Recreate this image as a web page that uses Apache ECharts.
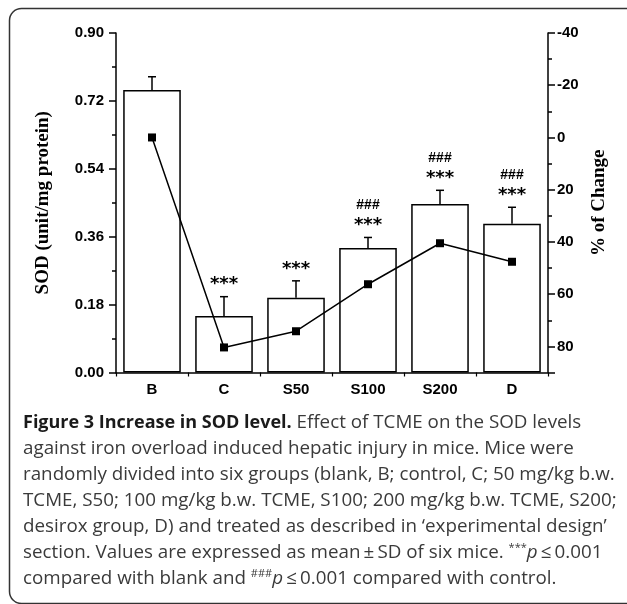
<!DOCTYPE html>
<html>
<head>
<meta charset="utf-8">
<script src="https://cdn.jsdelivr.net/npm/echarts@6/dist/echarts.min.js"></script>
<style>
html,body{margin:0;padding:0;background:#fff;}
#chart{width:627px;height:604px;}
</style>
</head>
<body>
<div id="chart"></div>
<script>
var categories = ['B', 'C', 'S50', 'S100', 'S200', 'D'];
var sodMean = [0.749, 0.150, 0.198, 0.330, 0.447, 0.394];
var sodSD = [0.035, 0.051, 0.045, 0.028, 0.036, 0.044];
var pctChange = [0, 80.4, 74.2, 56.2, 40.5, 47.6];
var starMarks = ['', '***', '***', '***', '***', '***'];
var hashMarks = ['', '', '', '###', '###', '###'];

var captionLines = [
  '{b|Figure 3 Increase in SOD level.}{r| Effect of TCME on the SOD levels}',
  '{r|against iron overload induced hepatic injury in mice. Mice were}',
  '{r|randomly divided into six groups (blank, B; control, C; 50 mg/kg b.w.}',
  '{r|TCME, S50; 100 mg/kg b.w. TCME, S100; 200 mg/kg b.w. TCME, S200;}',
  '{r|desirox group, D) and treated as described in \u2018experimental design\u2019}',
  '{r|section. Values are expressed as mean\u2009\u00b1\u2009SD of six mice. }{sup|***}{i|p}{r|\u2009\u2264\u20090.001}',
  '{r|compared with blank and }{sup|###}{i|p}{r|\u2009\u2264\u20090.001 compared with control.}'
];

var chart = echarts.init(document.getElementById('chart'));

var errData = categories.map(function (c, i) { return [i, sodMean[i], sodSD[i]]; });

var option = {
  animation: false,
  grid: { left: 116, right: 79, top: 33, bottom: 231.5, containLabel: false },
  xAxis: {
    type: 'category',
    data: categories,
    boundaryGap: true,
    axisLine: { lineStyle: { color: '#000', width: 1.5 } },
    axisTick: { show: true, length: 4, inside: false, lineStyle: { color: '#000', width: 1.2 } },
    axisLabel: { color: '#000', fontFamily: 'Liberation Sans, Arial', fontWeight: 'bold', fontSize: 15, margin: 10 }
  },
  yAxis: [
    {
      type: 'value',
      min: 0, max: 0.9, interval: 0.18,
      name: 'SOD (unit/mg protein)',
      nameLocation: 'middle',
      nameRotate: 90,
      nameGap: 63,
      nameTextStyle: { color: '#000', fontFamily: 'Liberation Serif, Times New Roman', fontWeight: 'bold', fontSize: 19 },
      axisLine: { show: true, lineStyle: { color: '#000', width: 1.5 } },
      axisTick: { show: true, length: 7, lineStyle: { color: '#000', width: 1.5 } },
      minorTick: { show: true, splitNumber: 2, length: 4, lineStyle: { color: '#000', width: 1.5 } },
      splitLine: { show: false },
      axisLabel: {
        color: '#000', fontFamily: 'Liberation Sans, Arial', fontWeight: 'bold', fontSize: 15, margin: 12,
        formatter: function (v) { return v.toFixed(2); }
      }
    },
    {
      type: 'value',
      position: 'right',
      inverse: true,
      min: -40, max: 90, interval: 20,
      name: '% of Change',
      nameLocation: 'middle',
      nameRotate: 90,
      nameGap: 40,
      nameTextStyle: { color: '#000', fontFamily: 'Liberation Serif, Times New Roman', fontWeight: 'bold', fontSize: 19 },
      axisLine: { show: true, lineStyle: { color: '#000', width: 1.5 } },
      axisTick: { show: true, length: 7, lineStyle: { color: '#000', width: 1.5 } },
      minorTick: { show: true, splitNumber: 2, length: 4, lineStyle: { color: '#000', width: 1.5 } },
      splitLine: { show: false },
      axisLabel: {
        color: '#000', fontFamily: 'Liberation Sans, Arial', fontWeight: 'bold', fontSize: 15, margin: 9,
        showMaxLabel: false,
        formatter: function (v) { return (v % 20 === 0) ? String(v) : ''; }
      }
    }
  ],
  series: [
    {
      type: 'bar',
      data: sodMean,
      barWidth: '80%',
      yAxisIndex: 0,
      itemStyle: { color: '#fff', borderColor: '#000', borderWidth: 1.5 },
      z: 2
    },
    {
      type: 'custom',
      yAxisIndex: 0,
      data: errData,
      z: 3,
      renderItem: function (params, api) {
        var i = api.value(0);
        var top = api.coord([i, api.value(1) + api.value(2)]);
        var base = api.coord([i, api.value(1)]);
        var children = [
          { type: 'line', shape: { x1: base[0], y1: base[1], x2: top[0], y2: top[1] }, style: { stroke: '#000', lineWidth: 1.5 } },
          { type: 'line', shape: { x1: top[0] - 4, y1: top[1], x2: top[0] + 4, y2: top[1] }, style: { stroke: '#000', lineWidth: 1.5 } }
        ];
        if (starMarks[i]) {
          children.push({ type: 'text', style: { text: starMarks[i], x: top[0], y: top[1] - 12, align: 'center', verticalAlign: 'middle', fill: '#000', font: 'bold 18px "DejaVu Sans", Arial' } });
        }
        if (hashMarks[i]) {
          children.push({ type: 'text', style: { text: hashMarks[i], x: top[0], y: top[1] - 32, align: 'center', verticalAlign: 'middle', fill: '#000', font: 'bold 14px "Liberation Sans", Arial' } });
        }
        return { type: 'group', children: children };
      }
    },
    {
      type: 'line',
      yAxisIndex: 1,
      data: pctChange,
      symbol: 'rect',
      symbolSize: 8,
      lineStyle: { color: '#000', width: 1.5 },
      itemStyle: { color: '#000' },
      z: 4
    }
  ],
  graphic: [
    {
      type: 'rect',
      shape: { x: 9.5, y: 8.5, width: 640, height: 595, r: 12 },
      style: { fill: 'none', stroke: '#333', lineWidth: 1.5 },
      silent: true
    },
    {
      type: 'text',
      left: 23,
      top: 410,
      style: {
        text: captionLines.join('\n'),
        lineHeight: 26,
        fill: '#333',
        rich: {
          b: { fontFamily: 'Open Sans', fontWeight: 'bold', fontSize: 18, fill: '#1a1a1a', lineHeight: 26 },
          r: { fontFamily: 'Open Sans', fontWeight: 'normal', fontSize: 18.8, fill: '#3a3a3a', lineHeight: 26 },
          i: { fontFamily: 'Open Sans', fontStyle: 'italic', fontSize: 18.8, fill: '#3a3a3a', lineHeight: 26 },
          sup: { fontFamily: 'Open Sans', fontSize: 11, fill: '#3a3a3a', lineHeight: 26, padding: [0, 0, 11, 0] }
        }
      }
    }
  ]
};
chart.setOption(option);
</script>
</body>
</html>
